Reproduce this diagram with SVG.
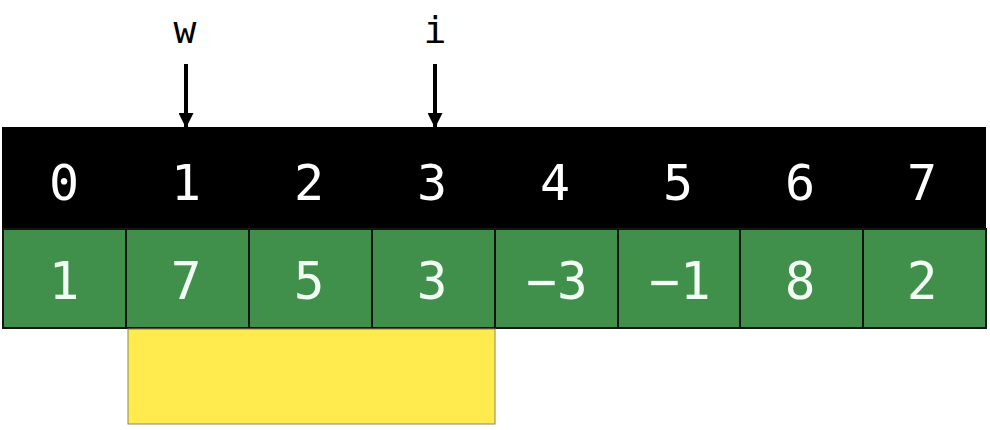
<svg xmlns="http://www.w3.org/2000/svg" width="990" height="430" viewBox="0 0 990 430">
<defs>
<style>
.idx{font-family:"DejaVu Sans Mono","Liberation Mono",monospace;font-size:50px;fill:#ffffff;text-anchor:middle}
.val{font-family:"DejaVu Sans Mono","Liberation Mono",monospace;font-size:51px;fill:#f2fff4;text-anchor:middle}
.lbl{font-family:"DejaVu Sans Mono","Liberation Mono",monospace;font-size:38px;fill:#000;text-anchor:middle}
.cell{fill:#40904c;stroke:#141414;stroke-width:2}
.ptr{stroke:#000;stroke-width:4}
</style>
<marker id="ah" viewBox="0 0 10 10" refX="10" refY="5" markerWidth="15" markerHeight="15" orient="auto" markerUnits="userSpaceOnUse">
<path d="M0,0 L10,5 L0,10 z" fill="#000"/>
</marker>
</defs>
<rect width="990" height="430" fill="#fff"/>
<g id="index-row">
<rect x="2" y="127" width="984" height="102" fill="#000"/>
<text class="idx" x="64" y="200">0</text>
<text class="idx" x="186" y="200">1</text>
<text class="idx" x="309" y="200">2</text>
<text class="idx" x="432" y="200">3</text>
<text class="idx" x="555" y="200">4</text>
<text class="idx" x="678" y="200">5</text>
<text class="idx" x="800" y="200">6</text>
<text class="idx" x="922" y="200">7</text>
</g>
<g id="value-row">
<rect class="cell" x="3" y="229" width="123" height="99"/>
<rect class="cell" x="126" y="229" width="123" height="99"/>
<rect class="cell" x="249" y="229" width="123" height="99"/>
<rect class="cell" x="372" y="229" width="123" height="99"/>
<rect class="cell" x="495" y="229" width="123" height="99"/>
<rect class="cell" x="618" y="229" width="122" height="99"/>
<rect class="cell" x="740" y="229" width="123" height="99"/>
<rect class="cell" x="863" y="229" width="123" height="99"/>
<text class="val" x="64" y="299">1</text>
<text class="val" x="186" y="299">7</text>
<text class="val" x="309" y="299">5</text>
<text class="val" x="432" y="299">3</text>
<text class="val" x="557" y="299">−3</text>
<text class="val" x="680" y="299">−1</text>
<text class="val" x="800" y="299">8</text>
<text class="val" x="922" y="299">2</text>
</g>
<g id="window">
<rect x="128" y="329" width="367" height="95" fill="#ffeb4d" stroke="#8a8560" stroke-width="1"/>
</g>
<g id="labels">
<text class="lbl" x="185" y="43">w</text>
<text class="lbl" x="435" y="43">i</text>
</g>
<g id="connectors">
<line class="ptr" x1="186" y1="64" x2="186" y2="128" marker-end="url(#ah)"/>
<line class="ptr" x1="435" y1="64" x2="435" y2="128" marker-end="url(#ah)"/>
</g>
</svg>
